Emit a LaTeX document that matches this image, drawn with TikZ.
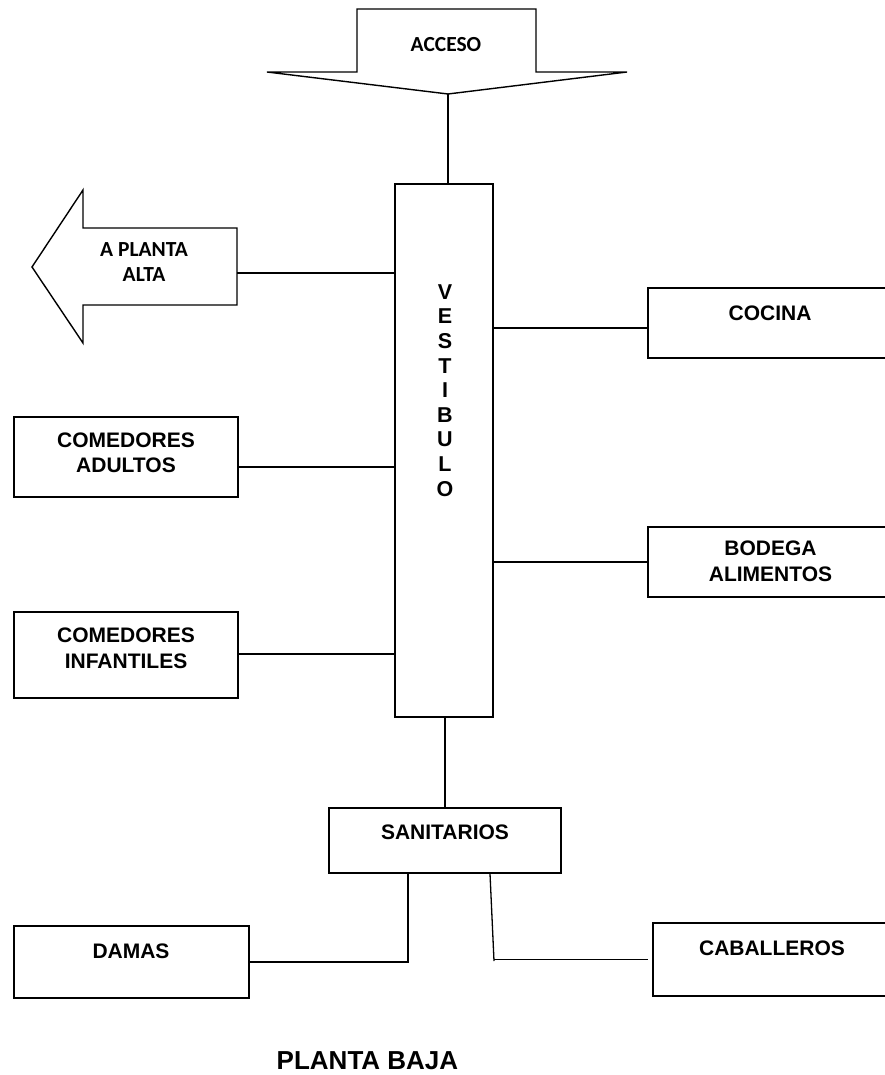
\documentclass[tikz,border=0pt]{standalone}
\usepackage{fontspec}
\setmainfont{Liberation Sans}
\newfontfamily\calibri{Carlito}
\begin{document}
\begin{tikzpicture}[x=1pt,y=-1pt,
  line width=1.4pt,
  box/.style={draw=black, line width=1.4pt, rectangle, inner sep=0pt},
  lbl/.style={font=\fontsize{21}{25}\selectfont\bfseries, align=center, inner sep=0pt},
  clbl/.style={font=\calibri\fontsize{21.5}{25}\selectfont\bfseries, align=center, inner sep=0pt},
  link/.style={draw=black, line width=1.3pt}]
\useasboundingbox (0,0) rectangle (885,1075);
\clip (0,0) rectangle (885,1075);

% rooms
\node[box, minimum width=98pt,  minimum height=533pt] (vest)   at (444,450.5) {};
\node[box, minimum width=244pt, minimum height=70pt]  (cocina) at (770,323) {};
\node[box, minimum width=224pt, minimum height=80pt]  (adult)  at (126,457) {};
\node[box, minimum width=224pt, minimum height=86pt]  (infan)  at (126,655) {};
\node[box, minimum width=244pt, minimum height=70pt]  (bodega) at (770,562) {};
\node[box, minimum width=232pt, minimum height=65pt]  (sanit)  at (445,840.5) {};
\node[box, minimum width=235pt, minimum height=72pt]  (damas)  at (131.5,962) {};
\node[box, minimum width=239pt, minimum height=73pt]  (caball) at (772.5,959.5) {};

% entrance arrow and stair arrow
\draw (357,9) -- (536,9) -- (536,72) -- (627,72) -- (448,94) -- (267,72) -- (357,72) -- cycle;
\coordinate (acctip) at (448,94);
\draw (237,228) -- (83,228) -- (83,190) -- (32,267) -- (83,343) -- (83,305) -- (237,305) -- cycle;
\coordinate (paend) at (237,273);

% labels
\node[clbl] (tacc) at (446,44.7) {ACCESO};
\node[clbl] (tpa)  at (144,262.5) {A PLANTA\\ALTA};
\node[lbl] (tcoc)  at (770,313) {COCINA};
\node[lbl] (tadu)  at (126,453) {COMEDORES\\ADULTOS};
\node[lbl, font=\fontsize{21}{25.8}\selectfont\bfseries] (tinf) at (126,648) {COMEDORES\\INFANTILES};
\node[lbl, font=\fontsize{21}{25.8}\selectfont\bfseries] (tbod) at (770.5,561.5) {BODEGA\\ALIMENTOS};
\node[lbl] (tsan)  at (445,832.5) {SANITARIOS};
\node[lbl] (tdam)  at (131,951.5) {DAMAS};
\node[lbl] (tcab)  at (772,948.3) {CABALLEROS};
\node[lbl, font=\fontsize{21.5}{24.6}\selectfont\bfseries] (tvest) at (445,390.5)
  {V\\E\\S\\T\\I\\B\\U\\L\\O};
\node[lbl, font=\fontsize{26}{30}\selectfont\bfseries] (ttitle) at (367.5,1061) {PLANTA BAJA};

% connections
\draw[link] (acctip) -- (acctip |- vest.north);
\draw[link] (paend) -- (paend -| vest.west);
\path ([yshift=-5pt]cocina.west) coordinate (c1);
\draw[link] (c1) -- (c1 -| vest.east);
\path ([yshift=-10pt]adult.east) coordinate (c2);
\draw[link] (c2) -- (c2 -| vest.west);
\path ([yshift=1pt]infan.east) coordinate (c3);
\draw[link] (c3) -- (c3 -| vest.west);
\draw[link] (bodega.west) -- ([xshift=-2pt]bodega.west -| vest.east);
\draw[link] (sanit.north) -- ([yshift=2pt]sanit.north |- vest.south);
\path ([xshift=-37pt]sanit.south) coordinate (s1);
\draw[link] (s1) -- (s1 |- damas.east) -- (damas.east);
\path ([xshift=45pt]sanit.south) coordinate (s2);
\coordinate (s2b) at (494,961);
\draw[link] (s2) -- (s2b);
\draw[link] (s2b |- caball.west) -- ([xshift=-4pt]caball.west);
\end{tikzpicture}
\end{document}
